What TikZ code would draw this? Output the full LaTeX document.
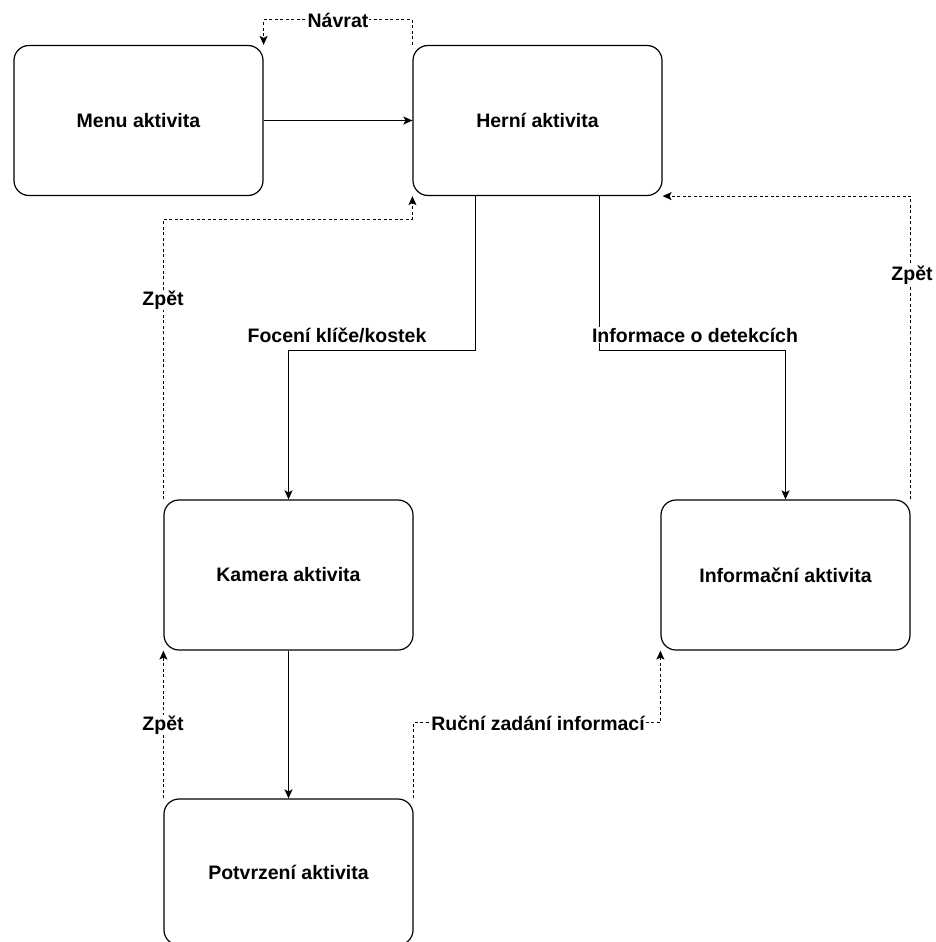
\documentclass[tikz,border=0pt]{standalone}
\usepackage{fontspec}
\setmainfont{Liberation Sans}
\usetikzlibrary{arrows.meta}
\begin{document}
\begin{tikzpicture}[x=1pt,y=-1pt,
  font=\fontsize{19.5}{23}\selectfont\bfseries,
  activity/.style={draw, line width=1.2pt, rounded corners=15pt, minimum width=249pt, minimum height=150pt, inner sep=0pt},
  conn/.style={line width=1.2pt, -{Stealth[length=9pt,width=8pt,inset=2pt]}},
  dconn/.style={conn, dash pattern=on 3pt off 2.5pt},
  lbl/.style={fill=white, inner sep=1pt}
]
\useasboundingbox (0,0) rectangle (936,942);
\node[activity] (menu) at (138.5,120.5) {Menu aktivita};
\node[activity] (herni) at (537.5,120.5) {Herní aktivita};
\node[activity] (kamera) at (288.5,575) {Kamera aktivita};
\node[activity] (info) at (785.5,575) {Informační aktivita};
\node[activity, minimum height=146pt] (potvr) at (288.5,872) {Potvrzení aktivita};

\draw[conn] (menu.east) -- (herni.west);
\draw[dconn] (herni.north west) -- ++(0,-25) -| (menu.north east);
\node[lbl] (lnavrat) at (338,20) {Návrat};

\draw[dconn] (kamera.north west) -- ++(0,-280) -| (herni.south west);
\node[lbl] (lzpet1) at (163,300) {Zpět};

\draw[conn] ([xshift=-62pt]herni.south) -- ++(0,154) -| (kamera.north);
\node[lbl] (lfoceni) at (337,335) {Focení klíče/kostek};

\draw[conn] ([xshift=62pt]herni.south) -- ++(0,154) -| (info.north);
\node[lbl] (linfo) at (695,335) {Informace o detekcích};

\draw[dconn] (info.north east) |- (herni.south east);
\node[lbl] (lzpet2) at (912,275) {Zpět};

\draw[conn] (kamera.south) -- (potvr.north);
\draw[dconn] (potvr.north west) -- (kamera.south west);
\node[lbl] (lzpet3) at (163,725) {Zpět};

\draw[dconn] (potvr.north east) -- ++(0,-76) -| (info.south west);
\node[lbl] (lrucni) at (538,723) {Ruční zadání informací};
\end{tikzpicture}
\end{document}
